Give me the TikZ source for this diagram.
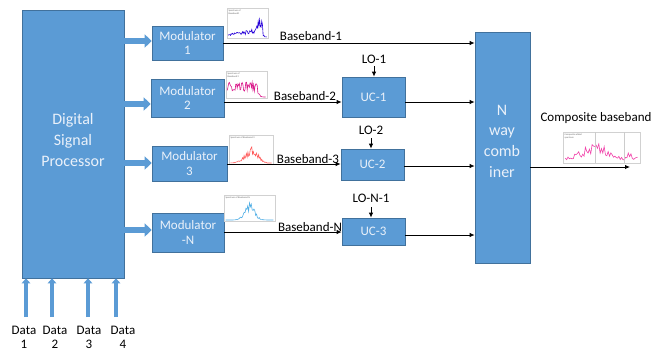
\documentclass[tikz,border=0pt]{standalone}
\usepackage{fontspec}
\setmainfont{Carlito}
\usetikzlibrary{arrows.meta}
\definecolor{bfill}{HTML}{5B9BD5}
\definecolor{bdraw}{HTML}{41719C}
\definecolor{btext}{HTML}{EAF1FA}
\newcommand{\specplot}[8]{%
  \begin{scope}[shift={(#1,#2)}]
    \fill[white] (0,0) rectangle (#3,#4);
    \draw[black!18, line width=0.3pt] (0,0) rectangle (#3,#4);
    \node[anchor=north west, font=\fontsize{2.4}{2.8}\selectfont, text=black!60, inner sep=0.4pt, align=left] at (1,1) {#6};
    \pgfmathsetseed{#8}
    \draw[#5, line width=0.6pt] plot[domain=0.03:0.97, samples=55] ({\x*#3}, {#4 - 1 - (#4-7)*(#7)*(0.35+0.65*rnd)});
  \end{scope}}
\begin{document}
\begin{tikzpicture}[x=1pt, y=-1pt,
  blk/.style={draw=bdraw, fill=bfill, line width=0.6pt, text=btext, align=center, inner sep=1pt},
  wtxt/.style={text=btext, align=center, inner sep=0pt},
  lbl/.style={font=\fontsize{13}{15}\selectfont, inner sep=0.5pt, text=black},
  fat/.style={bfill, line width=6.5pt, -{Triangle[length=7pt,width=13pt]}},
  datar/.style={bfill, line width=4pt, -{Triangle[length=5pt,width=8.5pt]}},
  sig/.style={black, line width=0.9pt, -{Latex[length=5pt,width=4.5pt]}}]
\useasboundingbox (0,0) rectangle (670,354);

% blocks
\node[blk, minimum width=102pt, minimum height=268pt] (dsp) at (73,144) {};
\node[wtxt, font=\fontsize{16}{21}\selectfont] (dsptxt) at (73,140) {Digital\\Signal\\Processor};
\node[blk, minimum width=71pt, minimum height=34pt, font=\fontsize{13}{14.5}\selectfont] (m1) at (187.5,43) {Modulator\\1};
\node[blk, minimum width=73pt, minimum height=38pt, font=\fontsize{13}{14.5}\selectfont] (m2) at (187.5,98) {Modulator\\2};
\node[blk, minimum width=75pt, minimum height=35pt, font=\fontsize{13}{14.5}\selectfont] (m3) at (189.5,163.5) {Modulator\\3};
\node[blk, minimum width=72pt, minimum height=39pt, font=\fontsize{13}{14.5}\selectfont] (mN) at (188,232.5) {Modulator\\-N};
\node[blk, minimum width=63pt, minimum height=40pt, font=\fontsize{13}{15}\selectfont] (uc1) at (373.5,97) {UC-1};
\node[blk, minimum width=63pt, minimum height=31pt, font=\fontsize{13}{15}\selectfont] (uc2) at (372.5,164.5) {UC-2};
\node[blk, minimum width=63pt, minimum height=27pt, font=\fontsize{13}{15}\selectfont] (uc3) at (373.5,231.5) {UC-3};
\node[blk, minimum width=55pt, minimum height=231pt] (comb) at (502.5,147.5) {};
\node[wtxt, font=\fontsize{16}{20.7}\selectfont] (combtxt) at (502,141) {N\\way\\comb\\iner};

% DSP -> modulators
\draw[fat] (dsp.east |- 0,41) -- (m1.west |- 0,41);
\draw[fat] (dsp.east |- 0,104) -- (m2.west |- 0,104);
\draw[fat] (dsp.east |- 0,163) -- (m3.west |- 0,163);
\draw[fat] (dsp.east |- 0,230) -- (mN.west |- 0,230);

% data inputs
\node[lbl, align=center, font=\fontsize{13}{14}\selectfont] (d1) at (24,337) {Data\\1};
\node[lbl, align=center, font=\fontsize{13}{14}\selectfont] (d2) at (55,337) {Data\\2};
\node[lbl, align=center, font=\fontsize{13}{14}\selectfont] (d3) at (89,337) {Data\\3};
\node[lbl, align=center, font=\fontsize{13}{14}\selectfont] (d4) at (123,337) {Data\\4};
\coordinate (a1) at (26,317);
\coordinate (a2) at (52,317);
\coordinate (a3) at (88,317);
\coordinate (a4) at (116,317);
\foreach \i in {1,2,3,4} \draw[datar] (a\i) -- (a\i |- dsp.south);

% spectra
\specplot{227}{8}{41}{30}{blue!70!violet}{Spectrum of\\Baseband1}{(0.12+0.35*\x)*(\x<0.88)+0.55*exp(-((\x-0.8)/0.07)^2)}{3}
\specplot{226}{71}{41}{27}{magenta!80!violet}{Spectrum of\\Baseband 2}{0.75*(\x<0.72)+0.75*(\x>=0.72)*exp(-((\x-0.72)/0.08)^2)}{7}
\specplot{229}{135}{44}{29}{red!65}{Spectrum of Baseband-3}{0.85*exp(-((\x-0.5)/0.2)^2)*(\x<0.85)}{11}
\specplot{224}{195}{51}{26}{cyan!80!blue!70}{Spectrum of Baseband-N}{0.9*exp(-((\x-0.5)/0.14)^2)}{5}
\specplot{563}{132}{77}{31}{magenta!75}{Composite added\\spectrum}{0.2+0.6*exp(-((\x-0.42)/0.22)^2)+0.3*exp(-((\x-0.86)/0.04)^2)}{13}
\draw[black!20, line width=0.3pt] (595,132) -- (595,163) (624,132) -- (624,163);

% baseband lines
\coordinate (r1) at (0,43);
\coordinate (r2) at (0,102);
\coordinate (r3) at (0,164);
\coordinate (r4) at (0,232);
\draw[sig] (m1.east |- r1) -- (comb.west |- r1);
\draw[sig] (m2.east |- r2) -- (uc1.west |- r2);
\draw[sig] (m3.east |- r3) -- (uc2.west |- r3);
\draw[sig] (mN.east |- r4) -- (uc3.west |- r4);
\node[lbl] (bb1) at (311,36) {Baseband-1};
\node[lbl] (bb2) at (305,96) {Baseband-2};
\node[lbl] (bb3) at (308,159) {Baseband-3};
\node[lbl] (bbN) at (310,227) {Baseband-N};

% UC -> combiner
\coordinate (o1) at (0,102);
\coordinate (o2) at (0,166);
\coordinate (o3) at (0,235);
\draw[sig] (uc1.east |- o1) -- (comb.west |- o1);
\draw[sig] (uc2.east |- o2) -- (comb.west |- o2);
\draw[sig] (uc3.east |- o3) -- (comb.west |- o3);

% LO inputs
\node[lbl] (lo1) at (374,59) {LO-1};
\node[lbl] (lo2) at (371,130) {LO-2};
\node[lbl] (lo3) at (371,198) {LO-N-1};
\draw[sig] (374,66) coordinate (l1) -- (l1 |- uc1.north);
\draw[sig] (371,138) coordinate (l2) -- (l2 |- uc2.north);
\draw[sig] (371,207) coordinate (l3) -- (l3 |- uc3.north);

% output
\node[lbl] (cbb) at (596,118) {Composite baseband};
\coordinate (out) at (630,167);
\draw[sig] (comb.east |- out) -- (out);
\end{tikzpicture}
\end{document}
